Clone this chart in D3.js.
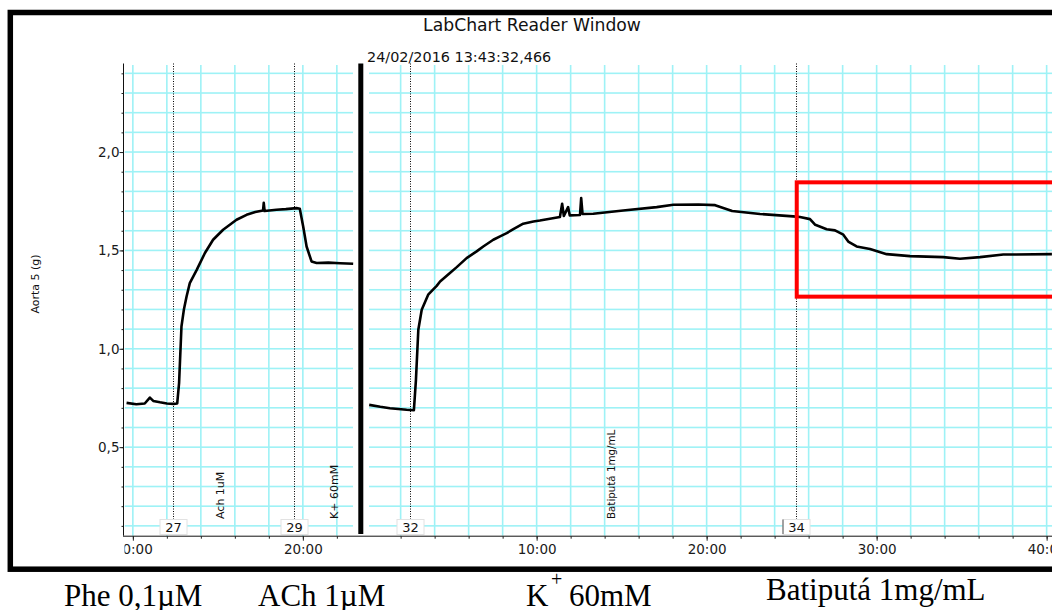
<!DOCTYPE html>
<html>
<head>
<meta charset="utf-8">
<script src="https://cdn.jsdelivr.net/npm/d3@7"></script>
<style>
	body { margin: 0; background: #fff; }
	svg { display: block; }
</style>
</head>
<body>
<svg id="chart" width="1052" height="610"></svg>
<script>
// trace values (time in min, force in g)
const leftTime = [9.63, 10.2, 10.7, 11.0, 11.2, 11.6, 12.0, 12.4, 12.61, 12.72, 12.86, 13.0, 13.16, 13.35, 13.75, 14.24, 14.72, 15.31, 16.1, 16.69, 17.2, 17.66, 17.7, 17.75, 18.45, 19.0, 19.63, 19.82, 20.02, 20.22, 20.51, 20.81, 21.5, 22.2, 22.96];
const leftForce = [0.725, 0.718, 0.722, 0.752, 0.735, 0.728, 0.722, 0.72, 0.722, 0.827, 1.113, 1.198, 1.266, 1.334, 1.4, 1.487, 1.554, 1.605, 1.656, 1.681, 1.695, 1.703, 1.742, 1.7, 1.707, 1.71, 1.715, 1.712, 1.622, 1.52, 1.444, 1.436, 1.438, 1.435, 1.432];

const rightTime = [0.15, 0.8, 1.37, 2.35, 2.78, 2.9, 3.04, 3.24, 3.62, 4.12, 4.32, 4.9, 5.3, 5.88, 6.47, 6.86, 7.45, 7.85, 8.24, 8.63, 9.21, 9.81, 10.19, 11.37, 11.5, 11.6, 11.85, 11.95, 12.55, 12.62, 12.7, 13.33, 15.09, 17.06, 18.04, 19.51, 20.5, 21.5, 23.14, 25.09, 25.49, 26.08, 26.39, 27.06, 27.55, 28.04, 28.33, 28.82, 29.61, 30.59, 31.96, 33.92, 34.9, 36.08, 37.45, 40.31];
const rightForce = [0.715, 0.705, 0.698, 0.69, 0.688, 0.842, 1.097, 1.198, 1.275, 1.32, 1.342, 1.385, 1.415, 1.461, 1.495, 1.52, 1.554, 1.571, 1.588, 1.608, 1.636, 1.647, 1.652, 1.67, 1.737, 1.675, 1.72, 1.678, 1.68, 1.766, 1.685, 1.686, 1.703, 1.72, 1.732, 1.733, 1.73, 1.7, 1.685, 1.673, 1.67, 1.659, 1.63, 1.608, 1.602, 1.58, 1.545, 1.52, 1.507, 1.481, 1.471, 1.466, 1.458, 1.466, 1.479, 1.481];

const yTicks = [0.5, 1.0, 1.5, 2.0];
const leftTimeLabels = [10, 20];
const rightTimeLabels = [10, 20, 30, 40];

// comment markers: number, block, time
const commentIds = ["27", "29", "32", "34"];
const commentBlock = ["left", "left", "right", "right"];
const commentTime = [12.34, 19.49, 2.56, 25.24];

// rotated comment texts
const noteTexts = ["Ach 1uM", "K+ 60mM", "Batiputá 1mg/mL"];
const noteBlock = ["left", "left", "right"];
const noteTime = [15.12, 21.84, 14.42];

// highlighted region (red box)
const boxStart = 25.3;
const boxForce = [1.265, 1.846];

chart = {

	init: function(){
		const me = chart;

		me.svg = d3.select("#chart");
		me.font = "DejaVu Sans, Verdana, sans-serif";
		me.y = d3.scaleLinear().domain([0.05, 2.45]).range([535.7, 63.5]);
		me.xLeft = d3.scaleLinear().domain([9.45, 22.95]).range([123.5, 353]);
		me.xRight = d3.scaleLinear().domain([0.08, 41.5]).range([368, 368 + 41.42 * 17]);

		const defs = me.svg.append("defs");
		defs.append("clipPath").attr("id", "clipLeft")
			.append("rect").attr("x", 124.5).attr("y", 60).attr("width", 229.5).attr("height", 540);
		defs.append("clipPath").attr("id", "clipRight")
			.append("rect").attr("x", 367).attr("y", 60).attr("width", 720).attr("height", 540);

		// window frame
		me.svg.append("rect")
			.attr("x", 10.3).attr("y", 12.5)
			.attr("width", 1100).attr("height", 556.7)
			.attr("fill", "#fff")
			.attr("stroke", "#000")
			.attr("stroke-width", 5.5);

		me.svg.append("text")
			.attr("x", 532).attr("y", 31)
			.attr("text-anchor", "middle")
			.attr("font-family", me.font)
			.attr("font-size", 17.2)
			.attr("fill", "#111")
			.text("LabChart Reader Window");

		me.svg.append("text")
			.attr("x", 367).attr("y", 62)
			.attr("font-family", me.font)
			.attr("font-size", 14.4)
			.attr("fill", "#111")
			.text("24/02/2016 13:43:32,466");

		me.drawGrid("left", me.xLeft, d3.range(10, 23, 2));
		me.drawGrid("right", me.xRight, d3.range(2, 41, 2));
		me.drawAxes();
		me.drawComments();
		me.drawTrace("left", me.xLeft, leftTime, leftForce);
		me.drawTrace("right", me.xRight, rightTime, rightForce);

		// block separator
		me.svg.append("rect")
			.attr("x", 358.3).attr("y", me.y.range()[1])
			.attr("width", 5).attr("height", 534 - me.y.range()[1])
			.attr("fill", "#000");

		me.svg.append("rect")
			.attr("x", me.xRight(boxStart))
			.attr("y", me.y(boxForce[1]))
			.attr("width", 1070 - me.xRight(boxStart))
			.attr("height", me.y(boxForce[0]) - me.y(boxForce[1]))
			.attr("fill", "none")
			.attr("stroke", "#ff0000")
			.attr("stroke-width", 4);

		me.drawCaptions();
	},

	drawGrid: function(block, x, times){
		const me = chart;
		const clip = block === "left" ? "url(#clipLeft)" : "url(#clipRight)";
		const g = me.svg.append("g").attr("clip-path", clip);
		const x0 = x.range()[0], x1 = x.range()[1];
		const top = me.y.range()[1], bottom = me.y.range()[0];
		const cyan = "#9ef2f6";
		const w = 1.6;

		g.selectAll("rect.gh")
			.data(me.y.ticks(24).filter(d => d > 0.06))
			.join("rect")
			.attr("class", "gh")
			.attr("x", x0 + 1).attr("width", x1 - x0 - 1)
			.attr("y", d => me.y(d) - w / 2)
			.attr("height", w)
			.attr("fill", cyan);

		g.selectAll("rect.gv")
			.data(times)
			.join("rect")
			.attr("class", "gv")
			.attr("x", d => x(d) - w / 2)
			.attr("width", w)
			.attr("y", top + 1.5)
			.attr("height", bottom - top - 1.5)
			.attr("fill", cyan);
	},

	drawAxes: function(){
		const me = chart;
		const yBase = me.y.range()[0];
		const fmt = d => d + ":00";

		// y axis
		const minor = me.svg.append("g")
			.attr("transform", "translate(123.5,0)")
			.call(d3.axisLeft(me.y).tickValues(me.y.ticks(24)).tickSize(2).tickFormat(""));
		minor.select(".domain").remove();
		minor.selectAll("line").attr("stroke", "#222");

		const yAxis = me.svg.append("g")
			.attr("transform", "translate(123.5,0)")
			.call(d3.axisLeft(me.y)
				.tickValues(yTicks)
				.tickSize(4)
				.tickPadding(0)
				.tickFormat(d => d.toFixed(1).replace(".", ",")));
		yAxis.select(".domain").remove();
		yAxis.selectAll("line").attr("stroke", "#222");
		yAxis.selectAll("text").attr("font-family", me.font).attr("font-size", 13.5).attr("fill", "#1a1a1a");

		me.svg.append("line")
			.attr("x1", 123.5).attr("x2", 123.5)
			.attr("y1", me.y.range()[1]).attr("y2", yBase)
			.attr("stroke", "#111");

		me.svg.append("text")
			.attr("transform", "translate(35,284) rotate(-90)")
			.attr("text-anchor", "middle")
			.attr("dy", "0.35em")
			.attr("font-family", me.font)
			.attr("font-size", 11)
			.attr("fill", "#111")
			.text("Aorta 5 (g)");

		// time axis
		me.svg.append("line")
			.attr("x1", 123).attr("x2", 1060)
			.attr("y1", yBase + 0.5).attr("y2", yBase + 0.5)
			.attr("stroke", "#111");

		[["left", me.xLeft, d3.range(10, 23, 2), leftTimeLabels],
		 ["right", me.xRight, d3.range(2, 42, 2), rightTimeLabels]].forEach(function(b){
			const clip = b[0] === "left" ? "url(#clipLeft)" : "url(#clipRight)";
			const gMinor = me.svg.append("g")
				.attr("transform", "translate(0," + (yBase + 0.5) + ")")
				.call(d3.axisBottom(b[1]).tickValues(b[2]).tickSize(2.5).tickFormat(""));
			gMinor.select(".domain").remove();
			gMinor.selectAll("line").attr("stroke", "#222");

			// clip sits on an untransformed wrapper so its box stays in page units
			const gMajor = me.svg.append("g")
				.attr("clip-path", clip)
				.append("g")
				.attr("transform", "translate(0," + (yBase + 0.5) + ")")
				.call(d3.axisBottom(b[1]).tickValues(b[3]).tickSize(4.5).tickPadding(4).tickFormat(fmt));
			gMajor.select(".domain").remove();
			gMajor.selectAll("line").attr("stroke", "#222");
			gMajor.selectAll("text").attr("font-family", me.font).attr("font-size", 13.5).attr("fill", "#1a1a1a");
		});
	},

	drawComments: function(){
		const me = chart;
		const scaleOf = b => b === "left" ? me.xLeft : me.xRight;
		const top = me.y.range()[1];

		commentIds.forEach(function(id, i){
			const cx = Math.round(scaleOf(commentBlock[i])(commentTime[i])) + 0.5;
			me.svg.append("line")
				.attr("x1", cx).attr("x2", cx)
				.attr("y1", top).attr("y2", 519)
				.attr("stroke", "#000")
				.attr("stroke-dasharray", "1,1.5");
			me.svg.append("rect")
				.attr("x", cx - 13.5).attr("y", 519.5)
				.attr("width", 27).attr("height", 15)
				.attr("fill", "#fff")
				.attr("stroke", "#e2e2e2");
			if (id === "34") {
				me.svg.append("line")
					.attr("x1", cx - 13.5).attr("x2", cx - 13.5)
					.attr("y1", 519.5).attr("y2", 534)
					.attr("stroke", "#555");
			}
			me.svg.append("text")
				.attr("x", cx).attr("y", 532)
				.attr("text-anchor", "middle")
				.attr("font-family", me.font)
				.attr("font-size", 13)
				.attr("fill", "#111")
				.text(id);
		});

		noteTexts.forEach(function(t, i){
			const nx = scaleOf(noteBlock[i])(noteTime[i]);
			me.svg.append("text")
				.attr("transform", "translate(" + nx + ",519) rotate(-90)")
				.attr("dy", "0.35em")
				.attr("font-family", me.font)
				.attr("font-size", i === 2 ? 10.3 : 11)
				.attr("fill", "#111")
				.text(t);
		});
	},

	drawTrace: function(block, x, times, values){
		const me = chart;
		const clip = block === "left" ? "url(#clipLeft)" : "url(#clipRight)";
		const line = d3.line()
			.x(d => x(d[0]))
			.y(d => me.y(d[1]));

		me.svg.append("path")
			.datum(d3.zip(times, values))
			.attr("clip-path", clip)
			.attr("d", line)
			.attr("fill", "none")
			.attr("stroke", "#000")
			.attr("stroke-width", 2.6)
			.attr("stroke-linejoin", "round");
	},

	drawCaptions: function(){
		const me = chart;
		const serif = "Liberation Serif, Times New Roman, serif";
		const g = me.svg.append("g")
			.attr("font-family", serif)
			.attr("font-size", 31)
			.attr("fill", "#000");

		g.append("text").attr("x", 64).attr("y", 606).text("Phe 0,1µM");
		g.append("text").attr("x", 258).attr("y", 606).text("ACh 1µM");
		const k = g.append("text").attr("y", 606);
		k.append("tspan").attr("x", 526).text("K");
		k.append("tspan").attr("x", 551).attr("y", 586).attr("font-size", 20).text("+");
		k.append("tspan").attr("x", 569).attr("y", 606).text("60mM");
		g.append("text").attr("x", 766).attr("y", 600).text("Batiputá 1mg/mL");
	}
}

chart.init();
</script>
</body>
</html>
